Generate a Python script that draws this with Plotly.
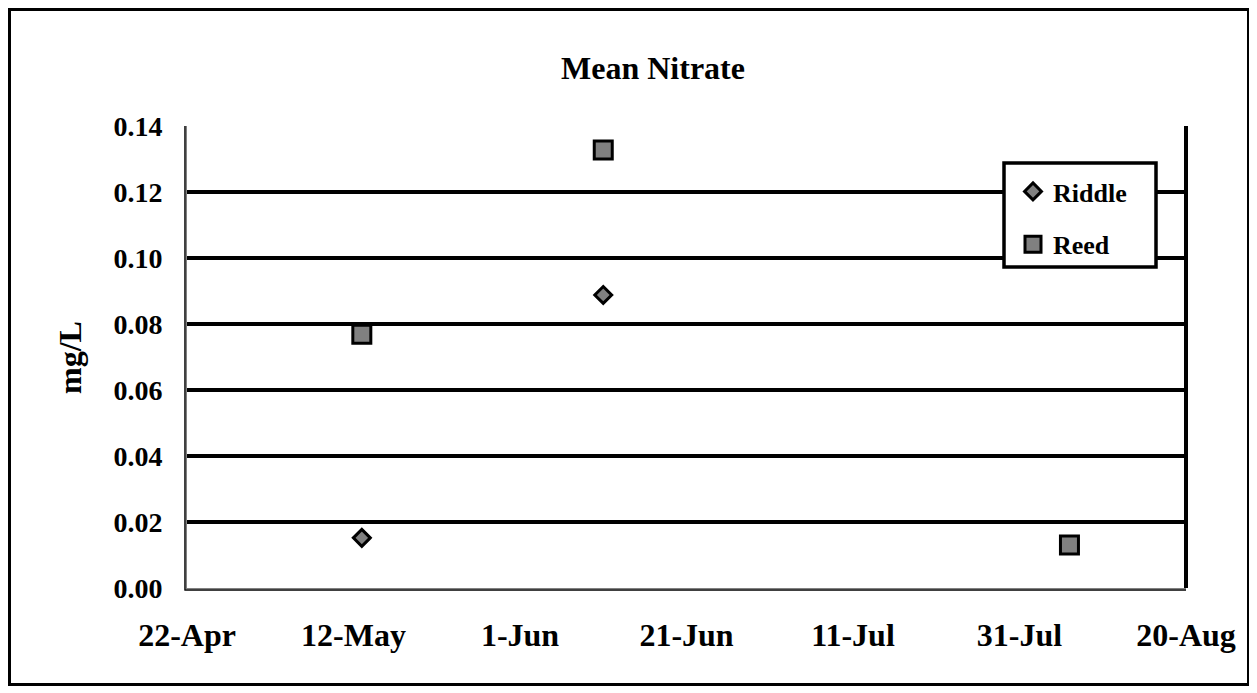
import plotly.graph_objects as go

# ---- data ----
riddle_dates = ["2011-05-13", "2011-06-11"]
riddle_values = [0.0152, 0.0888]
reed_dates = ["2011-05-13", "2011-06-11", "2011-08-06"]
reed_values = [0.0769, 0.1327, 0.0130]

x_tick_dates = ["2011-04-22", "2011-05-12", "2011-06-01", "2011-06-21",
                "2011-07-11", "2011-07-31", "2011-08-20"]
x_tick_labels = ["22-Apr", "12-May", "1-Jun", "21-Jun", "11-Jul", "31-Jul", "20-Aug"]
y_tick_values = [0.00, 0.02, 0.04, 0.06, 0.08, 0.10, 0.12, 0.14]
y_tick_labels = ["0.00", "0.02", "0.04", "0.06", "0.08", "0.10", "0.12", "0.14"]

FONT = "Liberation Serif, Times New Roman, serif"
OFF = 8                      # page body margin
W, H = 1257 - OFF, 693 - OFF
# plot area in page pixels
L, R, T, B = 187 - OFF, 1186 - OFF, 126 - OFF, 588 - OFF
pw, ph = R - L, B - T


def px_x(x):
    return (x - OFF - L) / pw


def px_y(y):
    return (B - (y - OFF)) / ph


fig = go.Figure()
fig.add_trace(go.Scatter(
    x=riddle_dates, y=riddle_values, mode="markers", name="<b>Riddle</b>",
    marker=dict(symbol="diamond", size=13, color="#808080",
                line=dict(color="black", width=3)),
    legendgroup="a",
))
fig.add_trace(go.Scatter(
    x=reed_dates, y=reed_values, mode="markers", name="<b>Reed</b>",
    marker=dict(symbol="square", size=18, color="#808080",
                line=dict(color="black", width=3)),
    legendgroup="b",
))

shapes = [
    # outer chart border
    dict(type="rect", xref="paper", yref="paper",
         x0=px_x(9.5), x1=px_x(1248.5), y0=px_y(684.5), y1=px_y(9.5),
         line=dict(color="black", width=3), layer="below"),
    # right edge of plot area
    dict(type="line", xref="paper", yref="paper", x0=1, x1=1, y0=0, y1=1,
         line=dict(color="black", width=4), layer="above"),
    # thin black outer edges of left/bottom axis
    dict(type="line", xref="paper", yref="paper", x0=px_x(185), x1=px_x(185),
         y0=px_y(590), y1=1, line=dict(color="black", width=1), layer="above"),
    dict(type="line", xref="paper", yref="paper", x0=px_x(185), x1=1,
         y0=px_y(590), y1=px_y(590), line=dict(color="black", width=1), layer="above"),
    # legend box
    dict(type="rect", xref="paper", yref="paper",
         x0=px_x(1004), x1=px_x(1156), y0=px_y(267), y1=px_y(163),
         fillcolor="white", line=dict(color="black", width=3.5), layer="above"),
]

fig.update_layout(
    width=W, height=H,
    margin=dict(l=L, r=W - R, t=T, b=H - B),
    paper_bgcolor="white", plot_bgcolor="white",
    font=dict(family=FONT, size=20, color="black"),
    title=dict(text="<b>Mean Nitrate</b>", x=(653 - OFF) / W, xanchor="center",
               y=1 - (68 - OFF) / H, yanchor="middle",
               font=dict(family=FONT, size=32, color="black")),
    showlegend=True,
    legend=dict(x=px_x(1013), y=px_y(168), xanchor="left", yanchor="top",
                bgcolor="rgba(0,0,0,0)", borderwidth=0,
                font=dict(family=FONT, size=26, color="black"),
                tracegroupgap=16, itemwidth=30),
    shapes=shapes,
    annotations=[dict(text="<b>mg/L</b>", xref="paper", yref="paper",
                      x=px_x(70), y=px_y(358), showarrow=False, textangle=-90,
                      xanchor="center", yanchor="middle",
                      font=dict(family=FONT, size=32, color="black"))],
)

fig.update_xaxes(
    type="date", range=[x_tick_dates[0], x_tick_dates[-1]],
    tickvals=x_tick_dates, ticktext=["<b>%s</b>" % t for t in x_tick_labels],
    showgrid=False, zeroline=False,
    showline=True, linecolor="#808080", linewidth=3,
    ticks="", ticklabelstandoff=17,
    tickfont=dict(family=FONT, size=32, color="black"),
)
fig.update_yaxes(
    range=[0, 0.14], tickvals=y_tick_values,
    ticktext=["<b>%s</b>" % t for t in y_tick_labels],
    showgrid=True, gridcolor="black", gridwidth=4, zeroline=False,
    showline=True, linecolor="#808080", linewidth=3,
    ticks="", ticklabelstandoff=16,
    tickfont=dict(family=FONT, size=28, color="black"),
)

fig.write_html("out.html")
